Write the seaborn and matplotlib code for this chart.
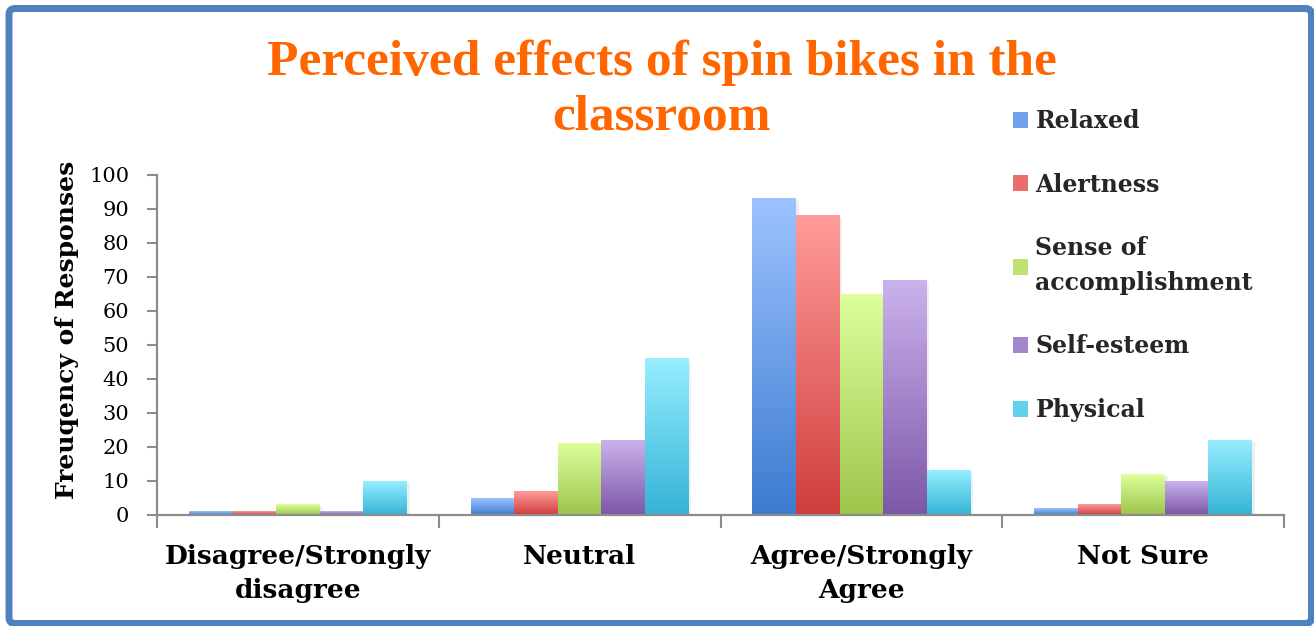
import numpy as np
import pandas as pd
import matplotlib
matplotlib.use("Agg")
import matplotlib.pyplot as plt
import seaborn as sns
from matplotlib.colors import LinearSegmentedColormap
from matplotlib.patches import FancyBboxPatch, Patch
import matplotlib.patheffects as pe

# ---------------- data ----------------
categories = ["Disagree/Strongly\ndisagree", "Neutral", "Agree/Strongly\nAgree", "Not Sure"]
series = ["Relaxed", "Alertness", "Sense of\naccomplishment", "Self-esteem", "Physical"]
relaxed = [1, 5, 93, 2]
alertness = [1, 7, 88, 3]
sense_of_accomplishment = [3, 21, 65, 12]
self_esteem = [1, 22, 69, 10]
physical = [10, 46, 13, 22]
yticks = [0, 10, 20, 30, 40, 50, 60, 70, 80, 90, 100]

title_lines = ["Perceived effects of spin bikes in the", "classroom"]
ylabel = "Freuqency of Responses"

# ---------------- styles ----------------
top_colors = ["#9DC3FF", "#FF9C99", "#DDFF9C", "#CBB2EC", "#96EEFF"]
bottom_colors = ["#3C7BD0", "#CF3D3D", "#9CC54A", "#7C57A8", "#35B3D6"]
mid_colors = ["#6FA0E8", "#EA6E6B", "#C0E275", "#A486CC", "#63D0EB"]

values = [relaxed, alertness, sense_of_accomplishment, self_esteem, physical]
rows = []
for s, vals in zip(series, values):
    for c, v in zip(categories, vals):
        rows.append({"category": c, "series": s, "value": v})
df = pd.DataFrame(rows)

sns.set_theme(style="white")
plt.rcParams["font.family"] = ["DejaVu Serif"]

fig = plt.figure(figsize=(13.14, 6.26), dpi=100)
ax = fig.add_axes([157 / 1314, 1 - 515 / 626, (1284 - 157) / 1314, 340 / 626])

sns.barplot(data=df, x="category", y="value", hue="series", order=categories,
            hue_order=series, palette=mid_colors, saturation=1, width=0.773,
            ax=ax, legend=False, errorbar=None)

grad = np.linspace(0, 1, 256).reshape(-1, 1)
for i, cont in enumerate(ax.containers):
    cmap = LinearSegmentedColormap.from_list(f"g{i}", [bottom_colors[i], top_colors[i]])
    for bar in cont:
        x0, w, h = bar.get_x(), bar.get_width(), bar.get_height()
        bar.set_edgecolor("none")
        bar.set_path_effects([pe.SimplePatchShadow(offset=(2, -1.5), shadow_rgbFace=(0.5, 0.5, 0.5), alpha=0.12), pe.Normal()])
        ax.imshow(grad, extent=[x0, x0 + w, 0, h], cmap=cmap, aspect="auto",
                  origin="lower", zorder=1.5, interpolation="bilinear")

ax.set_xlim(-0.5, 3.5)
ax.set_ylim(0, 100)
ax.set_yticks(yticks)
ax.set_yticklabels([str(t) for t in yticks])

axis_grey = "#8C8C8C"
for side in ["top", "right"]:
    ax.spines[side].set_visible(False)
for side in ["left", "bottom"]:
    ax.spines[side].set_color(axis_grey)
    ax.spines[side].set_linewidth(1.6)

ax.tick_params(axis="y", which="major", left=True, length=7, width=1.5, color=axis_grey,
               direction="out", labelsize=15, pad=13, labelcolor="black")

ax.set_xticks(range(len(categories)))
ax.set_xticklabels(categories, fontsize=19, fontweight="bold", linespacing=1.45)
ax.set_xticks([-0.5, 0.5, 1.5, 2.5, 3.5], minor=True)
ax.tick_params(axis="x", which="major", bottom=False, length=0, pad=21, labelcolor="black")
ax.tick_params(axis="x", which="minor", bottom=True, length=9, width=1.5, color=axis_grey, direction="out")

ax.set_xlabel("")
ax.set_ylabel(ylabel, fontsize=18, fontweight="bold", color="black")
ax.yaxis.set_label_coords(-0.069, 0.545)

# legend
handles = [Patch(facecolor=c, edgecolor="none") for c in mid_colors]
leg = fig.legend(handles, series, loc="upper left", bbox_to_anchor=(1013 / 1314, 1 - 109 / 626),
                 frameon=False, prop={"family": "DejaVu Serif", "weight": "bold", "size": 17},
                 handlelength=0.65, handleheight=0.65, handletextpad=0.3, labelspacing=1.68,
                 borderaxespad=0, borderpad=0)
for t in leg.get_texts():
    t.set_linespacing(1.55)

# title (two centred lines)
for txt, base in zip(title_lines, [75, 130]):
    fig.text(662 / 1314, 1 - base / 626, txt, ha="center", va="baseline", color="#FF6600",
             fontsize=37, fontweight="bold", family="Liberation Serif")

# border
border = FancyBboxPatch((9, 2.5), 1302.5, 615, boxstyle="round,pad=0,rounding_size=6",
                        transform=None, facecolor="none", edgecolor="#4F81BD", linewidth=5.0)
fig.patches.append(border)

fig.savefig("out.png", dpi=100)
